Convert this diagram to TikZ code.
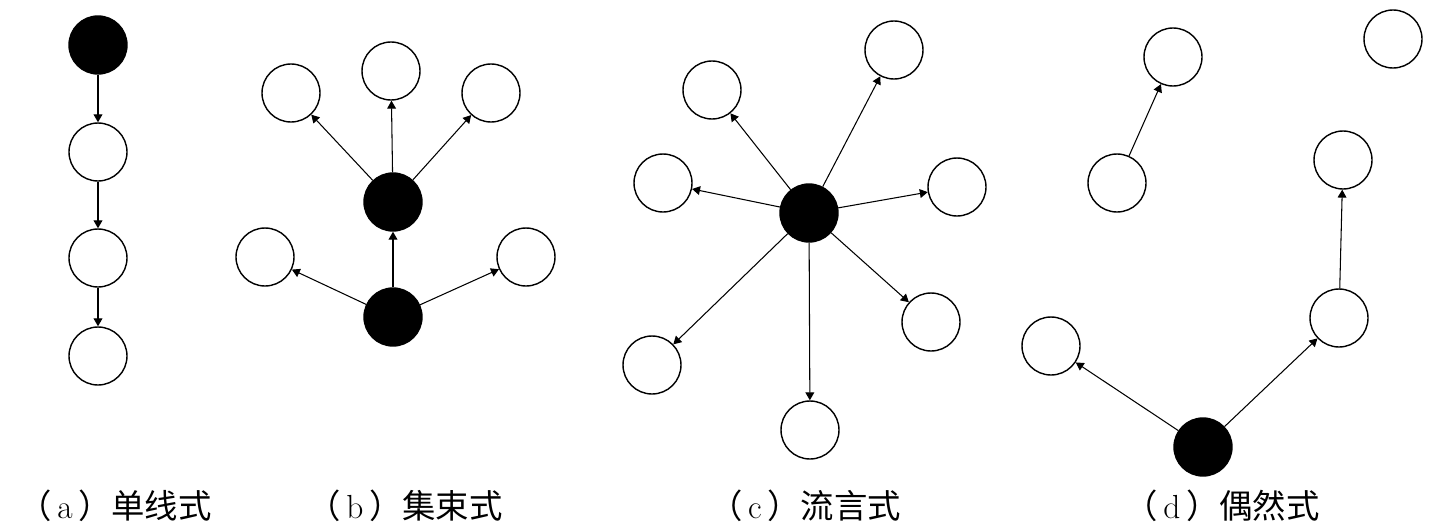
\documentclass[tikz,border=0pt]{standalone}
\usepackage{fontspec}
\newfontfamily\cjk{Noto Sans CJK SC}
\usepackage{tikz}
\usetikzlibrary{arrows.meta}

\begin{document}
\begin{tikzpicture}[x=0.02cm,y=-0.02cm,
  wh/.style={circle,draw,line width=.8pt,minimum size=1.16cm,inner sep=0pt},
  bl/.style={wh,fill=black},
  arr/.style={-{Triangle[length=4.5pt,width=5pt]},line width=.6pt},
  lab/.style={font=\fontsize{19}{22}\selectfont}]
\useasboundingbox (0,0) rectangle (1434,531);
% (a)
\node[bl] (a1) at (98,45){};
\node[wh] (a2) at (98,152){};
\node[wh] (a3) at (98,258){};
\node[wh] (a4) at (98,356){};
\foreach \s/\t in {a1/a2,a2/a3,a3/a4}{\draw[arr] (\s)--(\t);}
% (b)
\node[bl] (b1) at (393,317){};
\node[bl] (b2) at (393,202){};
\node[wh] (b3) at (265,257){};
\node[wh] (b4) at (526,257){};
\node[wh] (b5) at (291,93){};
\node[wh] (b6) at (391,71){};
\node[wh] (b7) at (491,93){};
\foreach \s/\t in {b1/b2,b1/b3,b1/b4,b2/b5,b2/b6,b2/b7}{\draw[arr] (\s)--(\t);}
% (c)
\node[bl] (c0) at (809,213){};
\node[wh] (c1) at (712,90){};
\node[wh] (c2) at (894,50){};
\node[wh] (c3) at (663,183){};
\node[wh] (c4) at (957,187){};
\node[wh] (c5) at (931,322){};
\node[wh] (c6) at (652,365){};
\node[wh] (c7) at (810,430){};
\foreach \t in {c1,c2,c3,c4,c5,c6,c7}{\draw[arr] (c0)--(\t);}
% (d)
\node[bl] (d0) at (1203,447){};
\node[wh] (d1) at (1117,183){};
\node[wh] (d2) at (1173,57){};
\node[wh] (d3) at (1393,39){};
\node[wh] (d4) at (1051,346){};
\node[wh] (d5) at (1339,318){};
\node[wh] (d6) at (1343,160){};
\foreach \s/\t in {d1/d2,d0/d4,d0/d5,d5/d6}{\draw[arr] (\s)--(\t);}
% labels
\node[lab] (la) at (115,506){{\cjk （}\,a\,{\cjk ）单线式}};
\node[lab] (lb) at (405,506){{\cjk （}\,b\,{\cjk ）集束式}};
\node[lab] (lc) at (805,506){{\cjk （}\,c\,{\cjk ）流言式}};
\node[lab] (ld) at (1222,506){{\cjk （}\,d\,{\cjk ）偶然式}};
\end{tikzpicture}
\end{document}
